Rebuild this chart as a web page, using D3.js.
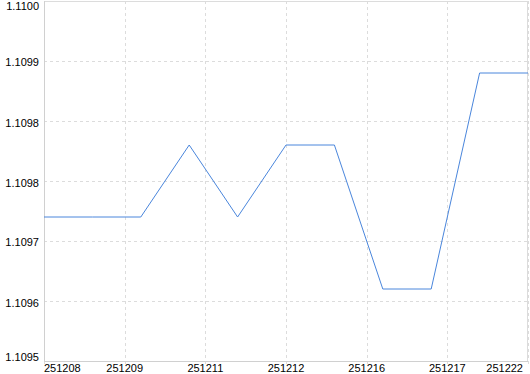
<!DOCTYPE html>
<html>
<head>
<meta charset="utf-8">
<script src="https://cdn.jsdelivr.net/npm/d3@7"></script>
<style>
  body { margin: 0; background: #fff; }
  text { font-family: Tahoma, "Liberation Sans", sans-serif; font-size: 11px; fill: #000; }
</style>
</head>
<body>
<div id="chart"></div>
<script>
const dates = ["251208", "251209", "251210", "251211", "251212", "251215",
               "251216", "251217", "251218", "251219", "251222"];
const prices = [1.1097, 1.1097, 1.1097, 1.1098, 1.1097, 1.1098,
                1.1098, 1.1096, 1.1096, 1.1099, 1.1099];
const yTicks = [1.1095, 1.10958333, 1.10966667, 1.10975, 1.10983333, 1.10991667, 1.1100];
const xTickLabels = ["251208", "251209", "251211", "251212", "251216", "251217", "251222"];

const width = 530, height = 374;
const plotLeft = 44, plotRight = 528, plotTop = 1, plotBottom = 361;

const svg = d3.select('#chart').append("svg")
    .attr("width", width)
    .attr("height", height);

const x = d3.scaleLinear().domain([0, dates.length - 1]).range([plotLeft, plotRight]);
const y = d3.scaleLinear().domain([1.1095, 1.1100]).range([plotBottom, plotTop]);
// vertical grid splits the plot into equal parts, one label each
const xg = d3.scaleLinear().domain([0, xTickLabels.length - 1]).range([plotLeft, plotRight]);

// grid
svg.append("g")
    .selectAll("line")
    .data(yTicks)
    .enter().append("line")
    .attr("x1", plotLeft).attr("x2", plotRight)
    .attr("y1", d => Math.round(y(d)) + 0.5)
    .attr("y2", d => Math.round(y(d)) + 0.5)
    .attr("stroke", "#dcdcdc")
    .attr("stroke-dasharray", "3,3");

svg.append("g")
    .selectAll("line")
    .data(xTickLabels)
    .enter().append("line")
    .attr("x1", (d, i) => Math.round(xg(i)) + 0.5)
    .attr("x2", (d, i) => Math.round(xg(i)) + 0.5)
    .attr("y1", plotTop).attr("y2", plotBottom + 3)
    .attr("stroke", "#dcdcdc")
    .attr("stroke-dasharray", "3,3");

// frame
svg.append("rect")
    .attr("x", plotLeft + 0.5).attr("y", plotTop + 0.5)
    .attr("width", plotRight - plotLeft - 1).attr("height", plotBottom - plotTop)
    .attr("fill", "none")
    .attr("stroke", "#dcdcdc");
svg.append("line")
    .attr("x1", plotLeft + 0.5).attr("x2", plotLeft + 0.5)
    .attr("y1", plotTop).attr("y2", plotBottom + 1)
    .attr("stroke", "#d0d0d0");
svg.append("line")
    .attr("x1", plotLeft).attr("x2", plotRight)
    .attr("y1", plotBottom + 0.5).attr("y2", plotBottom + 0.5)
    .attr("stroke", "#d0d0d0");

// y labels, clamped inside the plot height
svg.append("g")
    .selectAll("text")
    .data(yTicks)
    .enter().append("text")
    .attr("x", 39)
    .attr("y", d => Math.min(Math.max(y(d) + 5.5, plotTop + 9), plotBottom))
    .attr("text-anchor", "end")
    .text(d => d.toFixed(4));

// x labels, first and last kept inside the plot
svg.append("g")
    .selectAll("text")
    .data(xTickLabels)
    .enter().append("text")
    .attr("x", (d, i) => i === 0 ? plotLeft : i === xTickLabels.length - 1 ? plotRight - 5 : xg(i))
    .attr("y", 372)
    .attr("text-anchor", (d, i) => i === 0 ? "start" : i === xTickLabels.length - 1 ? "end" : "middle")
    .text(d => d);

// price line
const line = d3.line()
    .x((d, i) => x(i))
    .y(d => y(d));

svg.append("path")
    .datum(prices)
    .attr("d", line)
    .attr("fill", "none")
    .attr("stroke", "#4a86dc")
    .attr("stroke-width", 1);
</script>
</body>
</html>
